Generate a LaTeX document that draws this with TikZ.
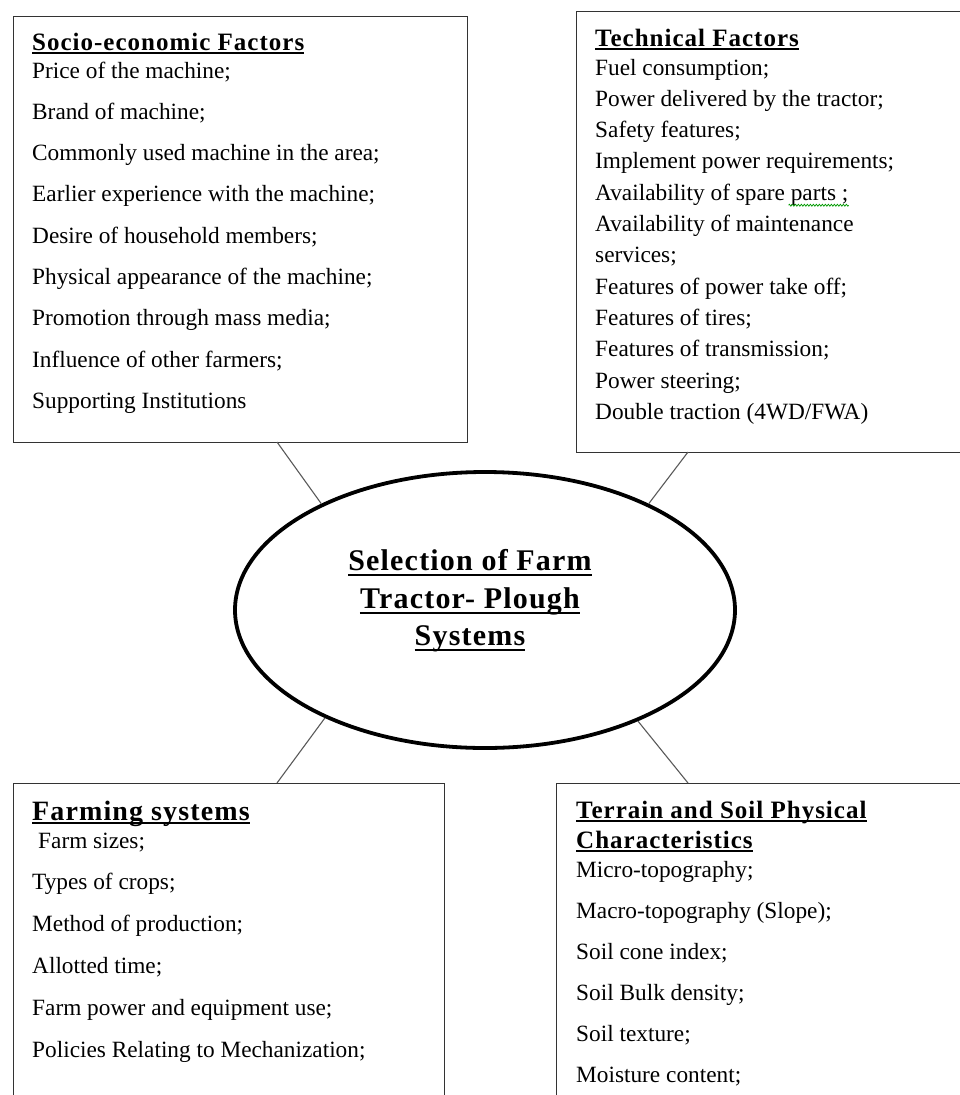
\documentclass[tikz,border=0pt]{standalone}
\usepackage{fontspec}
\setmainfont{Liberation Serif}
\newfontfamily\headfam[LetterSpace=4]{Liberation Serif}
\usetikzlibrary{shapes.geometric,decorations.pathmorphing}
\begin{document}
\begin{tikzpicture}[x=1pt,y=-1pt,
  box/.style={draw=black!80, line width=1.4pt, anchor=north west, inner sep=0pt, rectangle},
  item/.style={anchor=base west, inner sep=0pt, font=\fontsize{23.3}{28}\selectfont},
  head/.style={anchor=base west, inner sep=0pt, font=\headfam\bfseries\fontsize{25}{30}\selectfont},
  title/.style={anchor=base, inner sep=0pt, font=\headfam\bfseries\fontsize{30}{36}\selectfont},
  ul/.style={line width=2pt, black},
  link/.style={draw=black!65, line width=1.1pt},
  squig/.style={draw=green!60!black, line width=0.7pt, decorate, decoration={zigzag, segment length=3pt, amplitude=1pt}}]
\useasboundingbox (0,0) rectangle (960,1095);
\clip (0,0) rectangle (960,1095);

% boxes
\node[box, minimum width=454pt, minimum height=426pt] (b1) at (13,16) {};
\node[box, minimum width=420pt, minimum height=441pt] (b2) at (576,11) {};
\node[box, minimum width=431pt, minimum height=340pt] (b3) at (13,783) {};
\node[box, minimum width=440pt, minimum height=340pt] (b4) at (556,783) {};

% central ellipse
\node[ellipse, draw=black, line width=3.8pt, line join=round, minimum width=500pt, minimum height=276pt, inner sep=0pt] (ell) at (485,610) {};
\node[title] (c1) at (470,570) {Selection of Farm};
\node[title] (c2) at (470,608) {Tractor- Plough};
\node[title] (c3) at (470,645) {Systems};
\foreach \n in {c1,c2,c3}
  \draw[ul, line width=2.5pt] ([yshift=-5pt]\n.base west) -- ([yshift=-5pt]\n.base east);

% connectors
\coordinate (k1) at (277,442);
\coordinate (k2) at (688,452);
\coordinate (k3) at (277,783);
\coordinate (k4) at (688,783);
\draw[link] (k1) -- (ell.147);
\draw[link] (k2) -- (ell.33);
\draw[link] (k3) -- (ell.214);
\draw[link] (k4) -- (ell.-36);

% Socio-economic
\node[head] (h1) at (32,50) {Socio-economic Factors};
\draw[ul] ([yshift=-3pt]h1.base west) -- ([yshift=-3pt]h1.base east);
\foreach \t [count=\i] in {{Price of the machine;},{Brand of machine;},{Commonly used machine in the area;},{Earlier experience with the machine;},{Desire of household members;},{Physical appearance of the machine;},{Promotion through mass media;},{Influence of other farmers;},{Supporting Institutions}}
  \node[item] (s\i) at (32,{78+41.3*(\i-1)}) {\t};

% Technical
\node[head] (h2) at (595,46) {Technical Factors};
\draw[ul] ([yshift=-3pt]h2.base west) -- ([yshift=-3pt]h2.base east);
\foreach \t [count=\i] in {{Fuel consumption;},{Power delivered by the tractor;},{Safety features;},{Implement power requirements;},{Availability of spare parts ;},{Availability of maintenance},{services;},{Features of power take off;},{Features of tires;},{Features of transmission;},{Power steering;},{Double traction (4WD/FWA)}}
  \node[item] (t\i) at (595,{75+31.3*(\i-1)}) {\t};
\draw[squig] ([yshift=-5pt,xshift=-60pt]t5.base east) -- ([yshift=-5pt]t5.base east);

% Farming systems
\node[head, font=\headfam\bfseries\fontsize{28}{33}\selectfont] (h3) at (32,820) {Farming systems};
\draw[ul] ([yshift=-3pt]h3.base west) -- ([yshift=-3pt]h3.base east);
\foreach \t [count=\i] in {{Farm sizes;},{Types of crops;},{Method of production;},{Allotted time;},{Farm power and equipment use;},{Policies Relating to Mechanization;}}
  \node[item] (f\i) at ({\i==1 ? 38 : 32},{848+41.8*(\i-1)}) {\t};

% Terrain
\node[head] (h4) at (576,818) {Terrain and Soil Physical};
\node[head] (h5) at (576,848) {Characteristics};
\draw[ul] ([yshift=-3pt]h4.base west) -- ([yshift=-3pt]h4.base east);
\draw[ul] ([yshift=-3pt]h5.base west) -- ([yshift=-3pt]h5.base east);
\foreach \t [count=\i] in {{Micro-topography;},{Macro-topography (Slope);},{Soil cone index;},{Soil Bulk density;},{Soil texture;},{Moisture content;}}
  \node[item] (r\i) at (576,{877+41*(\i-1)}) {\t};
\end{tikzpicture}
\end{document}
